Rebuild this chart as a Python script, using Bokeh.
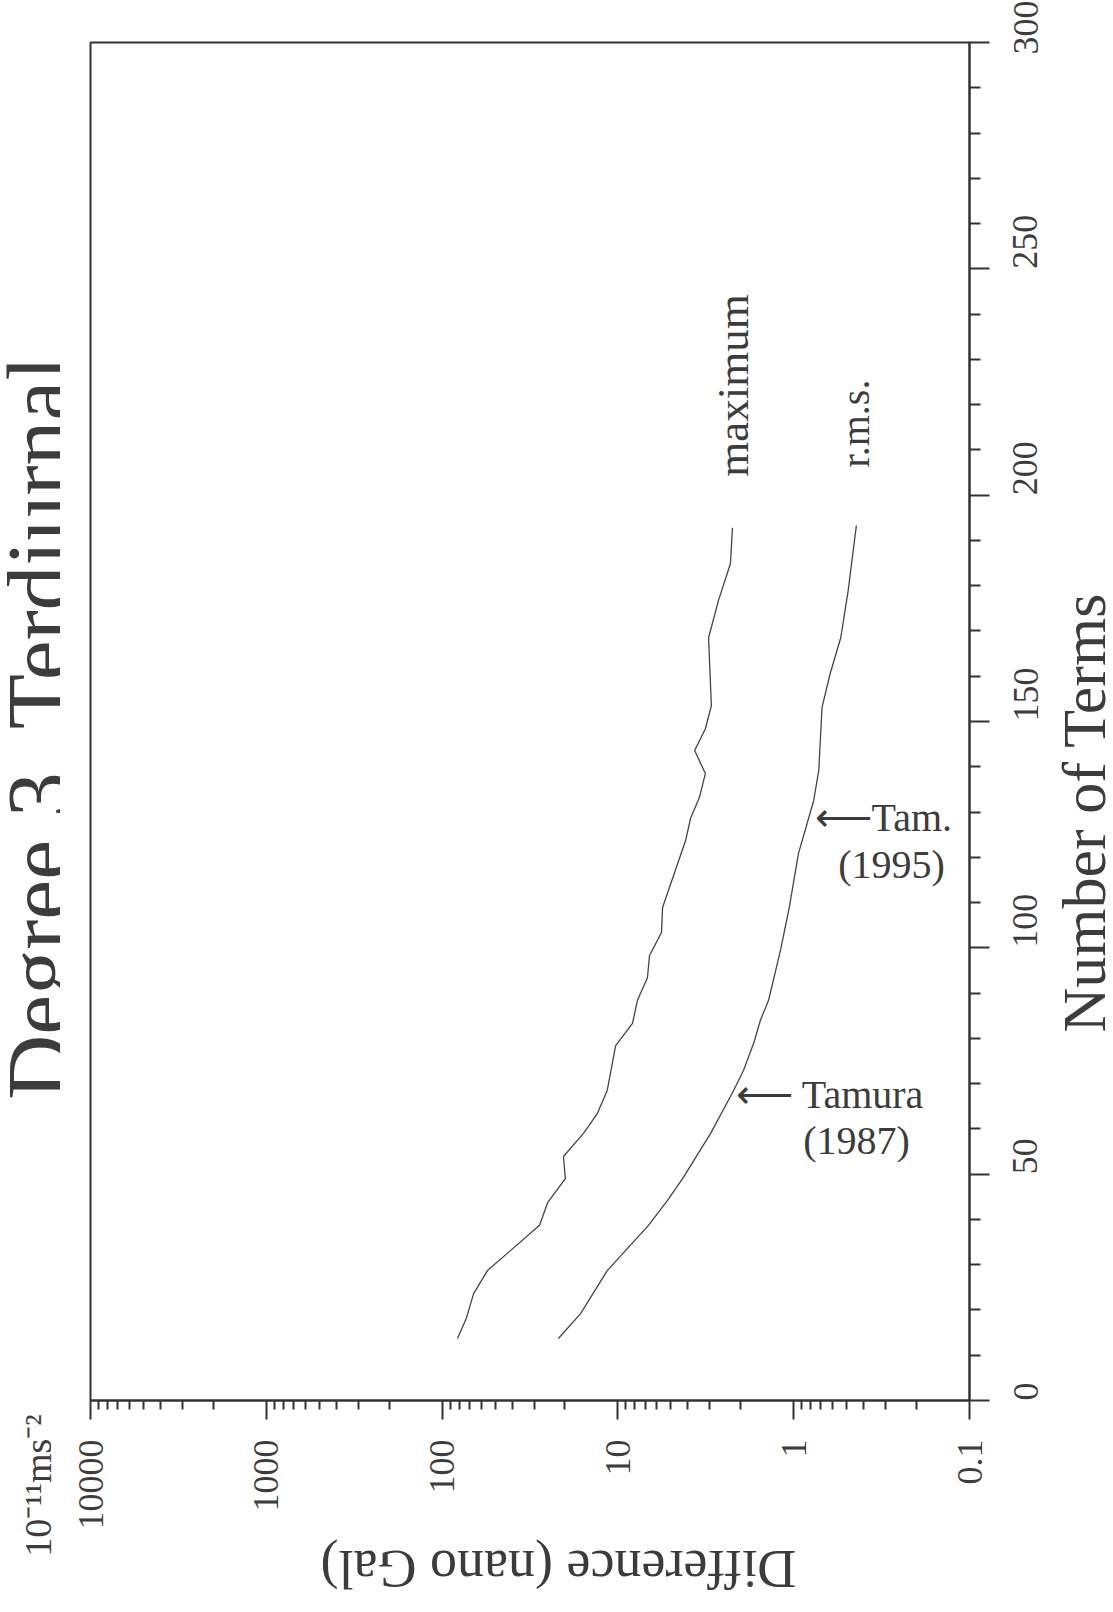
import math
from bokeh.plotting import figure
from bokeh.layouts import row, column
from bokeh.models import Range1d, FixedTicker, Label, CustomJSTickFormatter
from bokeh.embed import file_html
from bokeh.resources import INLINE

# ---------------- data ----------------
terms_max = [13.7, 18.3, 23.6, 28.7, 38.7, 43.7, 49.0, 53.9, 59.0, 63.4, 68.5, 78.4,
             83.3, 88.4, 93.4, 98.3, 103.4, 108.9, 123.7, 128.6, 133.2, 138.5, 143.6,
             148.4, 153.5, 168.5, 176.7, 184.9, 192.8]
diff_max = [81.7, 72.6, 66.2, 55.2, 27.9, 25.1, 19.9, 20.4, 15.7, 13.1, 11.5, 10.3,
            8.26, 7.74, 6.79, 6.61, 5.65, 5.57, 4.12, 3.86, 3.44, 3.18, 3.66,
            3.18, 2.94, 3.05, 2.68, 2.29, 2.23]

terms_rms = [13.7, 19.2, 28.7, 38.7, 44.2, 49.3, 59.0, 68.0, 72.9, 78.9, 83.9, 88.4,
             99.4, 108.9, 120.8, 132.5, 139.2, 153.1, 160.6, 168.5, 178.9, 193.3]
diff_rms = [21.8, 16.3, 11.5, 6.70, 5.22, 4.24, 2.97, 2.23, 1.93, 1.69, 1.55, 1.39,
            1.19, 1.06, 0.94, 0.77, 0.72, 0.69, 0.62, 0.54, 0.49, 0.44]

diff_ticks = [10000, 1000, 100, 10, 1, 0.1]
diff_minor_mult = [2, 3, 4, 5, 6, 7, 8, 9]
term_ticks = [0, 50, 100, 150, 200, 250, 300]
term_minor_ticks = [10, 20, 30, 40, 60, 70, 80, 90, 110, 120, 130, 140, 160, 170, 180,
                    190, 210, 220, 230, 240, 260, 270, 280, 290]

title_text = "Degree 3,  Terdiurnal"
x_title = "Difference (nano Gal)"
unit_text = "10\u207b\u00b9\u00b9ms\u207b\u00b2"
y_title = "Number of Terms"

# ---------------- layout ----------------
W, H = 1113, 1612
LW = 60            # left strip width (full height)
RX = 1056          # right strip starts here
BH = 1534          # height of the main plot (bottom strip below it)
FL, FR, FT, FB = 90, 969, 42, 1400
FONT = "Liberation Serif"
TC = "#3c3c3c"
LC = "#333333"


def strip(w, h, x0, x1, y_bottom, y_top):
    s = figure(width=w, height=h, x_range=Range1d(x0, x1), y_range=Range1d(y_bottom, y_top),
               x_axis_location=None, y_axis_location=None, output_backend="svg",
               toolbar_location=None, min_border=0)
    s.outline_line_color = None
    s.background_fill_color = "white"
    s.border_fill_color = "white"
    s.grid.visible = False
    return s


def lab(fig, text, X, Y, size, angle=0.0, align="center", baseline="middle"):
    fig.add_layout(Label(x=X, y=Y, text=text, angle=angle, text_align=align,
                         text_baseline=baseline, text_font=FONT,
                         text_font_size=f"{size}px", text_color=TC))


# main plot
MW = RX - LW
p = figure(width=MW, height=BH,
           x_axis_type="log", x_range=Range1d(10000, 0.1), y_range=Range1d(0, 300),
           y_axis_location="right", output_backend="svg", toolbar_location=None,
           min_border_left=FL - LW, min_border_right=MW - (FR - LW),
           min_border_top=FT, min_border_bottom=BH - FB)
p.background_fill_color = "white"
p.border_fill_color = "white"
p.outline_line_color = LC
p.outline_line_width = 2
p.xgrid.visible = False
p.ygrid.visible = False

minor = [d * m for d in diff_ticks[1:] for m in diff_minor_mult]
xa = p.xaxis[0]
xa.ticker = FixedTicker(ticks=diff_ticks, minor_ticks=minor)
xa.formatter = CustomJSTickFormatter(code="return tick < 1 ? tick.toFixed(1) : tick.toFixed(0);")
xa.major_label_orientation = math.pi / 2
xa.major_tick_out = 19
xa.major_tick_in = 0
xa.minor_tick_out = 9
xa.minor_tick_in = 0
xa.major_label_standoff = 20

ya = p.yaxis[0]
ya.ticker = FixedTicker(ticks=term_ticks, minor_ticks=term_minor_ticks)
ya.major_label_orientation = math.pi / 2
ya.major_tick_out = 20
ya.major_tick_in = 0
ya.minor_tick_out = 11
ya.minor_tick_in = 0
ya.major_label_standoff = 36

for ax in (xa, ya):
    ax.axis_line_color = LC
    ax.axis_line_width = 2
    ax.major_tick_line_color = LC
    ax.major_tick_line_width = 2
    ax.minor_tick_line_color = LC
    ax.minor_tick_line_width = 2
    ax.major_label_text_font = FONT
    ax.major_label_text_font_size = "36px"
    ax.major_label_text_color = TC

p.line(diff_max, terms_max, line_color="#444444", line_width=1.3)
p.line(diff_rms, terms_rms, line_color="#444444", line_width=1.3)


# in-plot annotations (frame-relative screen units)
def plab(text, X, Y, size, angle=0.0, align="center"):
    p.add_layout(Label(x=X - FL, y=FB - Y, x_units="screen", y_units="screen",
                       text=text, angle=angle, text_align=align, text_baseline="middle",
                       text_font=FONT, text_font_size=f"{size}px", text_color=TC))


plab("maximum", 732, 385, 45, angle=math.pi / 2)
plab("r.m.s.", 855, 423, 40, angle=math.pi / 2)
plab("\u27f5 Tamura", 735, 1094, 40, align="left")
plab("(1987)", 856, 1140, 40)
plab("\u27f5Tam.", 814, 817, 40, align="left")
plab("(1995)", 891, 864, 40)

# strips for the texts that lie outside the plot frame
left = strip(LW, H, 0, LW, H, 0)
lab(left, title_text, 39, 715, 90, angle=math.pi / 2)
lab(left, unit_text, 37, 1485, 38, angle=math.pi / 2)

right = strip(W - RX, BH, RX, W, BH, 0)
lab(right, y_title, 1083, 812, 62, angle=math.pi / 2)

bottom = strip(W - LW, H - BH, LW, W, H, BH)
lab(bottom, x_title, 558, 1568, 54, angle=math.pi)

layout = row(column(left),
             column(row(p, column(right), spacing=0), bottom, spacing=0),
             spacing=0)

open("out.html", "w").write(file_html(layout, INLINE))
